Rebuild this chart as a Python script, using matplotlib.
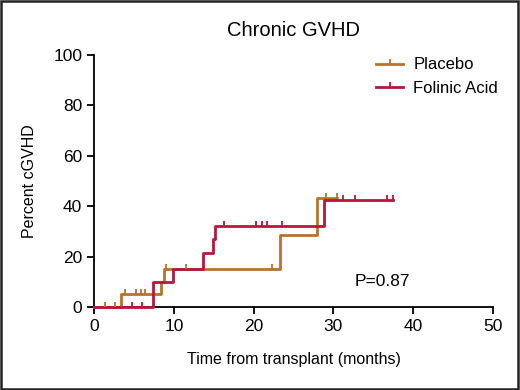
import numpy as np
import matplotlib.pyplot as plt
from matplotlib.lines import Line2D
from matplotlib.patches import Rectangle

plt.rcParams['font.family'] = ['Liberation Sans', 'DejaVu Sans']

# event times (months) and cumulative incidence (%)
placebo_t = [0, 3.4, 8.4, 8.7, 23.3, 27.9]
placebo_y = [0, 5, 10, 15, 28.6, 43.2]
placebo_end = 30.5
placebo_cens = [1.4, 2.6, 3.9, 5.3, 5.9, 6.4, 9.0, 11.5, 22.3, 29.1, 30.5]

folinic_t = [0, 7.4, 9.9, 13.7, 14.9, 15.2, 28.8]
folinic_y = [0, 10, 15, 21.4, 26.8, 32.3, 42.5]
folinic_end = 37.5
folinic_cens = [4.8, 6.0, 16.3, 20.3, 21.0, 21.7, 23.5, 31.2, 32.7, 36.7, 37.5]

col_placebo = '#b8732a'
col_folinic = '#b5173d'

fig = plt.figure(figsize=(5.2, 3.9), dpi=100)
ax = fig.add_axes([0.181, 0.213, 0.767, 0.646])

# thin dark frame round the picture
fig.patches.append(Rectangle((0.002, 0.003), 0.995, 0.995, transform=fig.transFigure,
                             fill=False, ec='#222222', lw=1.8))


def km(ax, t, y, end, cens, color, label):
    tt = list(t) + [end]
    yy = list(y) + [y[-1]]
    ax.step(tt, yy, where='post', color=color, lw=2, label=label,
            clip_on=False, zorder=3)
    idx = np.searchsorted(t, cens, side='right') - 1
    cy = np.array(y)[idx]
    ax.plot(cens, cy, ls='none', marker=2, ms=3.5, mew=1.3, color=color,
            clip_on=False, zorder=4)


km(ax, placebo_t, placebo_y, placebo_end, placebo_cens, col_placebo, 'Placebo')
km(ax, folinic_t, folinic_y, folinic_end, folinic_cens, col_folinic, 'Folinic Acid')

ax.set_xlim(0, 50)
ax.set_ylim(0, 100)
ax.set_xticks([0, 10, 20, 30, 40, 50])
ax.set_yticks([0, 20, 40, 60, 80, 100])
ax.spines['top'].set_visible(False)
ax.spines['right'].set_visible(False)
ax.spines['left'].set_linewidth(1.3)
ax.spines['bottom'].set_linewidth(1.3)
ax.tick_params(labelsize=12.5, width=1.3, length=5)
ax.set_xlabel('Time from transplant (months)', fontsize=11.5, labelpad=13)
ax.set_ylabel('Percent cGVHD', fontsize=11.5, labelpad=12)
ax.set_title('Chronic GVHD', fontsize=14.5, pad=14)
ax.text(32.7, 10, 'P=0.87', fontsize=12.5, va='center')

handles = [Line2D([0], [0], color=col_placebo, lw=2, marker=2, ms=3.5, mew=1.3,
                  label='Placebo'),
           Line2D([0], [0], color=col_folinic, lw=2, marker=2, ms=3.5, mew=1.3,
                  label='Folinic Acid')]
ax.legend(handles=handles, loc='upper right', frameon=False, fontsize=12,
          numpoints=1, bbox_to_anchor=(1.05, 1.05), handlelength=1.6,
          handletextpad=0.6, labelspacing=0.5)

fig.savefig('out.png', dpi=100)
